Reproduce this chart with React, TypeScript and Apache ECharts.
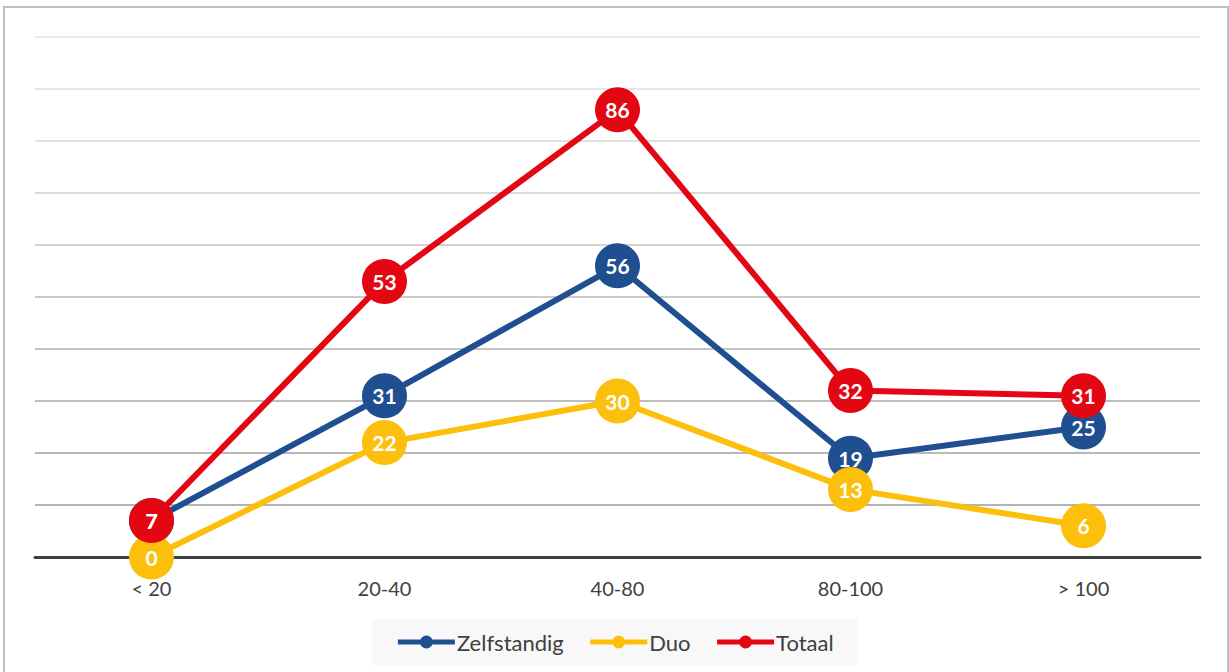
import React, { useEffect, useRef } from "react";
import * as echarts from "echarts";

const categories = ["< 20", "20-40", "40-80", "80-100", "> 100"];
const zelfstandig = [7, 31, 56, 19, 25];
const duo = [0, 22, 30, 13, 6];
const totaal = [7, 53, 86, 32, 31];

const gridColors = [
  "#b0b0b0", "#b3b3b3", "#b8b8b8", "#bdbdbd", "#c4c4c4",
  "#cbcbcb", "#d2d2d2", "#d9d9d9", "#e0e0e0", "#e6e6e6", "#ebebeb",
];

const FONT = "Lato, 'Open Sans', sans-serif";

function mkSeries(name: string, data: number[], color: string) {
  return {
    name,
    type: "line",
    data,
    symbol: "circle",
    symbolSize: 45,
    z: 10,
    itemStyle: { color },
    lineStyle: { color, width: 6 },
    label: {
      show: true,
      position: "inside",
      color: "#ffffff",
      fontWeight: "bold",
      fontSize: 21,
      fontFamily: FONT,
    },
    emphasis: { disabled: true },
  };
}

export default function App() {
  const ref = useRef<HTMLDivElement>(null);
  useEffect(() => {
    document.body.style.margin = "0";
    const chart = echarts.init(ref.current!, null, { renderer: "svg" });
    chart.setOption({
      animation: false,
      backgroundColor: "#ffffff",
      graphic: [
        {
          type: "rect",
          shape: { x: 4, y: 7, width: 1224, height: 700 },
          style: { fill: "none", stroke: "#bfbfbf", lineWidth: 2 },
          z: -10,
        },
      ],
      grid: { left: 35, right: 29, top: 37, bottom: 115, containLabel: false },
      xAxis: {
        type: "category",
        data: categories,
        boundaryGap: true,
        axisLine: { show: true, lineStyle: { color: "#404040", width: 3 } },
        axisTick: { show: false },
        axisLabel: {
          color: "#404040",
          fontSize: 20,
          fontFamily: FONT,
          margin: 21,
        },
      },
      yAxis: {
        type: "value",
        min: 0,
        max: 100,
        interval: 10,
        axisLabel: { show: false },
        axisLine: { show: false },
        axisTick: { show: false },
        splitLine: { show: true, lineStyle: { color: gridColors, width: 2 } },
      },
      legend: {
        bottom: 7,
        left: "center",
        backgroundColor: "#f8f8f8",
        padding: [12, 24],
        itemWidth: 57,
        itemHeight: 16,
        itemGap: 24,
        lineStyle: { width: 5 },
        textStyle: { color: "#404040", fontSize: 22, fontFamily: FONT, padding: [0, 0, 0, -3] },
        data: ["Zelfstandig", "Duo", "Totaal"],
      },
      series: [
        mkSeries("Zelfstandig", zelfstandig, "#1f4e91"),
        mkSeries("Duo", duo, "#fbbf0c"),
        mkSeries("Totaal", totaal, "#e30613"),
      ],
    });
    return () => chart.dispose();
  }, []);
  return <div ref={ref} style={{ width: 1229, height: 672 }} />;
}
